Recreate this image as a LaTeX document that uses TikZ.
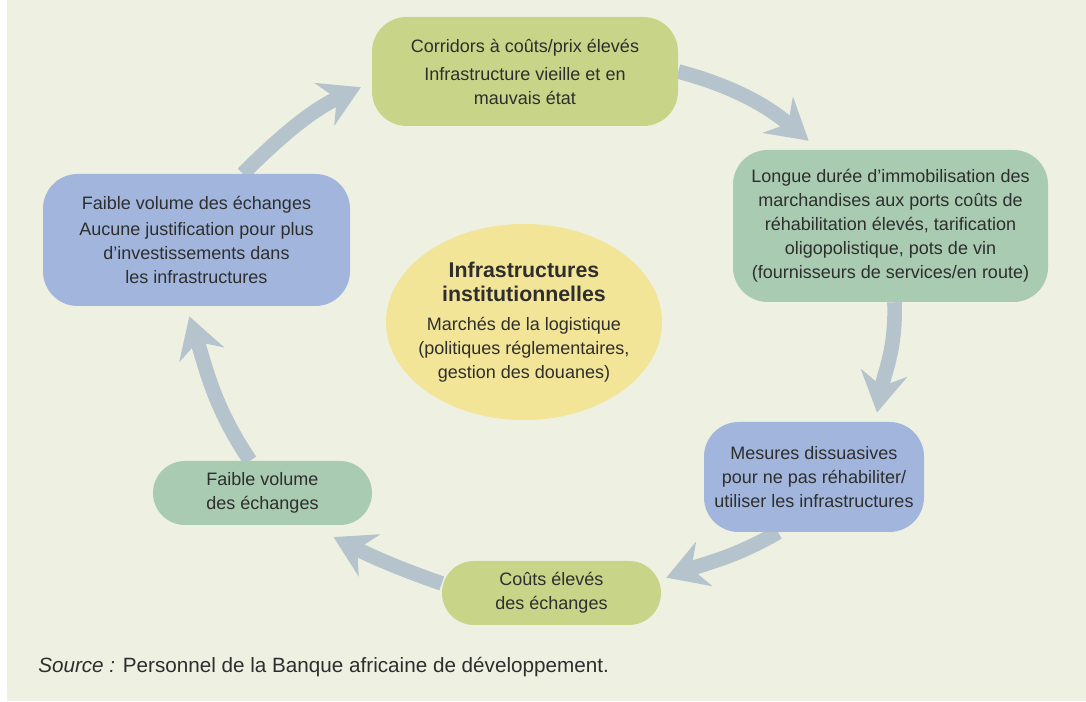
\documentclass[tikz,border=0pt]{standalone}
\usepackage{fontspec}
\setmainfont{Liberation Sans}
\usepackage{xcolor}
\usepackage{tikz}
\usetikzlibrary{shapes.geometric}
\usetikzlibrary{arrows.meta}
\definecolor{panelbg}{HTML}{EEF0E2}
\definecolor{olivebox}{HTML}{C8D588}
\definecolor{sagebox}{HTML}{A9CBB1}
\definecolor{bluebox}{HTML}{A2B6DD}
\definecolor{sunbox}{HTML}{F3E597}
\definecolor{loopgray}{HTML}{B5C4CC}
\definecolor{inktext}{HTML}{2E2E2E}
\newcommand{\hubhead}[1]{{\fontsize{16}{18}\selectfont\bfseries #1}}
\pgfdeclarelayer{panel}
\pgfdeclarelayer{loop}
\pgfsetlayers{panel,loop,main}

\begin{document}
\begin{tikzpicture}[
    x=0.75pt, y=0.75pt,
    every node/.style={align=center, text=inktext, inner sep=0pt,
                       font=\fontsize{13.5}{18}\selectfont},
    box/.style={rectangle, rounded corners=26pt},
    pill/.style={rectangle, rounded corners=24pt,
                 minimum width=164.25pt, minimum height=48pt},
    cyc/.style={draw=loopgray, line width=11pt,
                -{Stealth[length=30pt, width=35pt, inset=10pt]}},
  ]
  \useasboundingbox (0,0) rectangle (1086,702);
  \begin{pgfonlayer}{panel}
    \fill[panelbg] (7,1) rectangle (1086,702);
  \end{pgfonlayer}

  \node[box, fill=olivebox, minimum width=229.5pt, minimum height=81.75pt]
    (top) at (525, 630.5)
    {Corridors à coûts/prix élevés\\[3pt] Infrastructure vieille et en\\ mauvais état};
  \node[box, fill=sagebox, minimum width=236.25pt, minimum height=114pt]
    (rg) at (890.5, 476)
    {Longue durée d’immobilisation des\\ marchandises aux ports coûts de\\
     réhabilitation élevés, tarification\\ oligopolistique, pots de vin\\
     (fournisseurs de services/en route)};
  \node[box, fill=bluebox, minimum width=165pt, minimum height=82.5pt]
    (rbl) at (814, 225)
    {Mesures dissuasives\\ pour ne pas réhabiliter/\\ utiliser les infrastructures};
  \node[pill, fill=olivebox] (bot) at (551.5, 109) {Coûts élevés\\ des échanges};
  \node[pill, fill=sagebox] (lg) at (262.5, 209) {Faible volume\\ des échanges};
  \node[box, fill=bluebox, minimum width=230.25pt, minimum height=99pt]
    (lbl) at (196.5, 462)
    {Faible volume des échanges\\[2pt] Aucune justification pour plus\\
     d'investissements dans\\ les infrastructures};
  \node[ellipse, fill=sunbox, inner xsep=-30pt, inner ysep=-10pt,
        minimum width=207pt, minimum height=147pt]
    (hub) at (524, 380)
    {\hubhead{Infrastructures}\\ \hubhead{institutionnelles}\\[4pt]
     Marchés de la logistique\\ (politiques réglementaires,\\ gestion des douanes)};
  \node[anchor=west, font=\fontsize{15.5}{18}\selectfont] (src) at (38, 35)
    {\textit{Source :} Personnel de la Banque africaine de développement.};

  \begin{pgfonlayer}{loop}
    \draw[cyc, shorten >=9pt] (lbl.55) to[out=45, in=205] (top.184);
    \draw[cyc, shorten >=10.5pt] (top.east) to[out=-15, in=140] (rg.133);
    \draw[cyc, shorten >=7pt] (rg.-87) to[out=-88, in=80] (rbl.42);
    \draw[cyc, shorten >=4pt] (rbl.237) to[out=-150, in=20] (bot.7);
    \draw[cyc, shorten >=19.5pt] (bot.175) to[out=161, in=-27] (lg.-34);
    \draw[cyc, shorten >=8pt] (lg.111) to[out=124, in=-72] (lbl.261);
  \end{pgfonlayer}
\end{tikzpicture}
\end{document}
